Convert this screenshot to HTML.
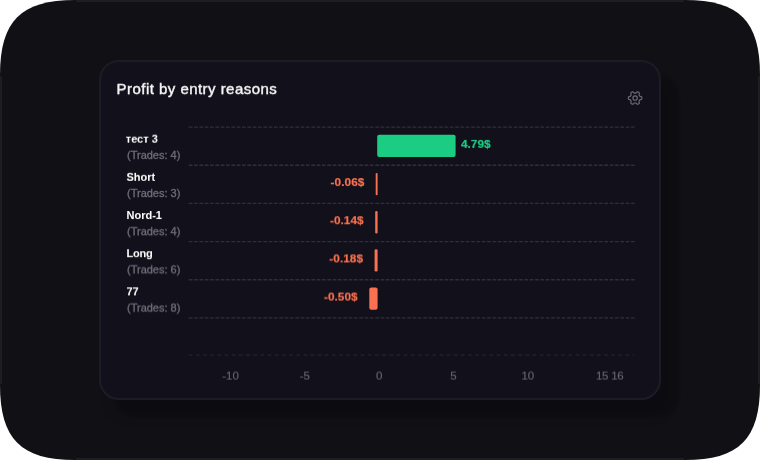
<!DOCTYPE html>
<html lang="en">
<head>
<meta charset="utf-8">
<title>Profit by entry reasons</title>
<style>
  html, body { margin: 0; padding: 0; }
  body {
    width: 760px; height: 460px; overflow: hidden; position: relative;
    background: #ffffff;
    font-family: "Liberation Sans", sans-serif;
  }
  .stage {
    position: absolute; left: 0; top: 0; width: 760px; height: 460px;
    overflow: hidden;
    background: #101015;
    clip-path: path("M0 75 C0 21 21 0 75 0 L685 0 C739 0 760 21 760 75 L760 385 C760 439 739 460 685 460 L75 460 C21 460 0 439 0 385 Z");
  }
  .edge { position: absolute; background: #1d1d23; }
  .edge.t { left: 76px; right: 76px; top: 0; height: 2px; }
  .edge.b { left: 76px; right: 76px; bottom: 0; height: 2px; }
  .edge.l { top: 76px; bottom: 76px; left: 0; width: 2px; }
  .edge.r { top: 76px; bottom: 76px; right: 0; width: 2px; }
  .card {
    position: absolute; left: 99px; top: 60px; width: 562px; height: 340px;
    box-sizing: border-box;
    background: #12111b;
    border: 2px solid #1d1c26;
    border-radius: 20px;
    box-shadow: 17.5px 17px 2.5px rgba(0,0,0,0.11), 10px 18px 12px rgba(0,0,0,0.09);
  }
  .gfx { position: absolute; left: 0; top: 0; width: 760px; height: 460px; }
  .defs { position: absolute; width: 0; height: 0; }
  .title, .name, .trades, .val, .tick { position: absolute; margin: 0; white-space: nowrap; }
  .title { font-size:15px;font-weight:400;line-height:20px;color:#f7f7f9;-webkit-text-stroke:0.4px #f7f7f9;letter-spacing:0.46px; }
  .name { font-size:11px;font-weight:700;line-height:14px;color:#ffffff; }
  .trades { font-size:11px;font-weight:400;line-height:14px;color:#6f6f7a;-webkit-text-stroke:0.3px #6f6f7a; }
  .val.g { font-size:11.8px;font-weight:700;line-height:14px;color:#1bcd82;-webkit-text-stroke:0.2px #1bcd82;letter-spacing:0.05px; }
  .val.r { font-size:11.8px;font-weight:700;line-height:14px;color:#f97150;-webkit-text-stroke:0.2px #f97150;letter-spacing:0.05px; text-align: right; }
  .tick { font-size:11.5px;font-weight:400;line-height:14px;color:#666672;-webkit-text-stroke:0.15px #666672; }
</style>
</head>
<body>
<svg class="defs" aria-hidden="true">
  <defs>
    <filter id="dy05" x="-2%" y="-25%" width="104%" height="150%" color-interpolation-filters="sRGB"><feConvolveMatrix order="1 2" kernelMatrix="0.95 0.05" targetX="0" targetY="1" edgeMode="none" preserveAlpha="false"></feConvolveMatrix></filter>
    <filter id="dy10" x="-2%" y="-25%" width="104%" height="150%" color-interpolation-filters="sRGB"><feConvolveMatrix order="1 2" kernelMatrix="0.90 0.10" targetX="0" targetY="1" edgeMode="none" preserveAlpha="false"></feConvolveMatrix></filter>
    <filter id="dy20" x="-2%" y="-25%" width="104%" height="150%" color-interpolation-filters="sRGB"><feConvolveMatrix order="1 2" kernelMatrix="0.80 0.20" targetX="0" targetY="1" edgeMode="none" preserveAlpha="false"></feConvolveMatrix></filter>
    <filter id="dy25" x="-2%" y="-25%" width="104%" height="150%" color-interpolation-filters="sRGB"><feConvolveMatrix order="1 2" kernelMatrix="0.75 0.25" targetX="0" targetY="1" edgeMode="none" preserveAlpha="false"></feConvolveMatrix></filter>
    <filter id="dy40" x="-2%" y="-25%" width="104%" height="150%" color-interpolation-filters="sRGB"><feConvolveMatrix order="1 2" kernelMatrix="0.60 0.40" targetX="0" targetY="1" edgeMode="none" preserveAlpha="false"></feConvolveMatrix></filter>
    <filter id="dy60" x="-2%" y="-25%" width="104%" height="150%" color-interpolation-filters="sRGB"><feConvolveMatrix order="1 2" kernelMatrix="0.40 0.60" targetX="0" targetY="1" edgeMode="none" preserveAlpha="false"></feConvolveMatrix></filter>
    <filter id="dy70" x="-2%" y="-25%" width="104%" height="150%" color-interpolation-filters="sRGB"><feConvolveMatrix order="1 2" kernelMatrix="0.30 0.70" targetX="0" targetY="1" edgeMode="none" preserveAlpha="false"></feConvolveMatrix></filter>
    <filter id="dy85" x="-2%" y="-25%" width="104%" height="150%" color-interpolation-filters="sRGB"><feConvolveMatrix order="1 2" kernelMatrix="0.15 0.85" targetX="0" targetY="1" edgeMode="none" preserveAlpha="false"></feConvolveMatrix></filter>
    <filter id="dy90" x="-2%" y="-25%" width="104%" height="150%" color-interpolation-filters="sRGB"><feConvolveMatrix order="1 2" kernelMatrix="0.10 0.90" targetX="0" targetY="1" edgeMode="none" preserveAlpha="false"></feConvolveMatrix></filter>
  </defs>
</svg>
<div class="stage">
  <div class="edge t"></div><div class="edge b"></div><div class="edge l"></div><div class="edge r"></div>
  <section class="card"></section>
  <svg class="gfx" viewBox="0 0 760 460">
    <g stroke="#2f2f3a" stroke-width="1.35" stroke-dasharray="3.75 1.578" fill="none">
      <line x1="188.7" y1="127.05" x2="634.7" y2="127.05"></line>
      <line x1="188.7" y1="165.22" x2="634.7" y2="165.22"></line>
      <line x1="188.7" y1="203.39" x2="634.7" y2="203.39"></line>
      <line x1="188.7" y1="241.56" x2="634.7" y2="241.56"></line>
      <line x1="188.7" y1="279.73" x2="634.7" y2="279.73"></line>
      <line x1="188.7" y1="317.90" x2="634.7" y2="317.90"></line>
    </g>
    <line x1="188.8" y1="355.2" x2="634" y2="355.2" stroke="#24232e" stroke-width="1.2" stroke-dasharray="3.8 3.36" fill="none"></line>
    <rect x="377.2" y="134.75" width="78.4" height="22.3" rx="2" fill="#1bcd82"></rect>
    <rect x="375.7" y="172.92" width="1.9" height="22.3" rx="0.95" fill="#f97150"></rect>
    <rect x="375.2" y="211.09" width="2.4" height="22.3" rx="1.2" fill="#f97150"></rect>
    <rect x="374.6" y="249.26" width="3.0" height="22.3" rx="1.3" fill="#f97150"></rect>
    <rect x="369.3" y="287.43" width="8.3" height="22.3" rx="2" fill="#f97150"></rect>
    <g fill="none" stroke="#6a6a76" stroke-width="1.2" stroke-linejoin="round">
      <path d="M641.85 98.05 L641.84 98.34 L641.81 98.64 L641.74 98.92 L641.59 99.19 L641.28 99.42 L640.75 99.56 L640.23 99.67 L639.90 99.80 L639.73 99.97 L639.60 100.15 L639.49 100.34 L639.39 100.52 L639.28 100.71 L639.17 100.90 L639.07 101.10 L639.02 101.34 L639.06 101.68 L639.24 102.19 L639.37 102.71 L639.33 103.10 L639.17 103.36 L638.96 103.56 L638.72 103.74 L638.48 103.90 L638.22 104.03 L637.95 104.15 L637.66 104.23 L637.35 104.24 L637.00 104.08 L636.61 103.70 L636.26 103.30 L635.99 103.08 L635.75 103.01 L635.53 103.00 L635.32 103.00 L635.10 103.00 L634.88 103.00 L634.67 103.00 L634.45 103.01 L634.21 103.08 L633.94 103.30 L633.59 103.70 L633.20 104.08 L632.85 104.24 L632.54 104.23 L632.25 104.15 L631.98 104.03 L631.73 103.90 L631.48 103.74 L631.24 103.56 L631.03 103.36 L630.87 103.10 L630.83 102.71 L630.96 102.19 L631.14 101.68 L631.18 101.34 L631.13 101.10 L631.03 100.90 L630.92 100.71 L630.81 100.53 L630.71 100.34 L630.60 100.15 L630.47 99.97 L630.30 99.80 L629.97 99.67 L629.45 99.56 L628.92 99.42 L628.61 99.19 L628.46 98.92 L628.39 98.64 L628.36 98.34 L628.35 98.05 L628.36 97.76 L628.39 97.46 L628.46 97.18 L628.61 96.91 L628.92 96.68 L629.45 96.54 L629.97 96.43 L630.30 96.30 L630.47 96.13 L630.60 95.95 L630.71 95.76 L630.81 95.58 L630.92 95.39 L631.03 95.20 L631.13 95.00 L631.18 94.76 L631.14 94.42 L630.96 93.91 L630.83 93.39 L630.87 93.00 L631.03 92.74 L631.24 92.54 L631.48 92.36 L631.73 92.20 L631.98 92.07 L632.25 91.95 L632.54 91.87 L632.85 91.86 L633.20 92.02 L633.59 92.40 L633.94 92.80 L634.21 93.02 L634.45 93.09 L634.67 93.10 L634.88 93.10 L635.10 93.10 L635.32 93.10 L635.53 93.10 L635.75 93.09 L635.99 93.02 L636.26 92.80 L636.61 92.40 L637.00 92.02 L637.35 91.86 L637.66 91.87 L637.95 91.95 L638.22 92.07 L638.48 92.20 L638.72 92.36 L638.96 92.54 L639.17 92.74 L639.33 93.00 L639.37 93.39 L639.24 93.91 L639.06 94.42 L639.02 94.76 L639.07 95.00 L639.17 95.20 L639.28 95.39 L639.39 95.58 L639.49 95.76 L639.60 95.95 L639.73 96.13 L639.90 96.30 L640.23 96.43 L640.75 96.54 L641.28 96.68 L641.59 96.91 L641.74 97.18 L641.81 97.46 L641.84 97.76 Z"></path>
      <circle cx="635.1" cy="98.05" r="2.2"></circle>
    </g>
  </svg>
  <h2 class="title" style="top:79px;left:116.60px;filter:url(#dy10);">Profit by entry reasons</h2>
  <div class="name" style="top:131px;left:125.75px;filter:url(#dy70);">тест 3</div>
  <div class="trades" style="top:147px;left:127.00px;filter:url(#dy90);">(Trades: 4)</div>
  <div class="val g" style="top:136px;left:460.90px;filter:url(#dy90);">4.79$</div>
  <div class="name" style="top:169px;left:126.50px;filter:url(#dy85);">Short</div>
  <div class="trades" style="top:186px;left:127.00px;filter:url(#dy05);">(Trades: 3)</div>
  <div class="val r" style="top:175px;right:395.65px;filter:url(#dy05);">-0.06$</div>
  <div class="name" style="top:208px;left:126.50px;filter:url(#dy05);">Nord-1</div>
  <div class="trades" style="top:224px;left:127.00px;filter:url(#dy25);">(Trades: 4)</div>
  <div class="val r" style="top:213px;right:396.35px;filter:url(#dy25);">-0.14$</div>
  <div class="name" style="top:246px;left:126.50px;filter:url(#dy20);letter-spacing:-0.25px;">Long</div>
  <div class="trades" style="top:262px;left:127.00px;filter:url(#dy40);">(Trades: 6)</div>
  <div class="val r" style="top:251px;right:396.95px;filter:url(#dy40);">-0.18$</div>
  <div class="name" style="top:284px;left:126.50px;filter:url(#dy40);">77</div>
  <div class="trades" style="top:300px;left:127.00px;filter:url(#dy60);">(Trades: 8)</div>
  <div class="val r" style="top:289px;right:402.35px;filter:url(#dy60);">-0.50$</div>
  <div class="tick" style="top:368px;left:200.60px;width:60px;text-align:center;filter:url(#dy60);">-10</div>
  <div class="tick" style="top:368px;left:274.90px;width:60px;text-align:center;filter:url(#dy60);">-5</div>
  <div class="tick" style="top:368px;left:349.30px;width:60px;text-align:center;filter:url(#dy60);">0</div>
  <div class="tick" style="top:368px;left:423.40px;width:60px;text-align:center;filter:url(#dy60);">5</div>
  <div class="tick" style="top:368px;left:497.80px;width:60px;text-align:center;filter:url(#dy60);">10</div>
  <div class="tick" style="top:368px;left:572.00px;width:60px;text-align:center;filter:url(#dy60);letter-spacing:-0.5px;">15</div>
  <div class="tick" style="top:368px;left:587.20px;width:60px;text-align:center;filter:url(#dy60);letter-spacing:-0.5px;">16</div>
</div>
</body>
</html>
